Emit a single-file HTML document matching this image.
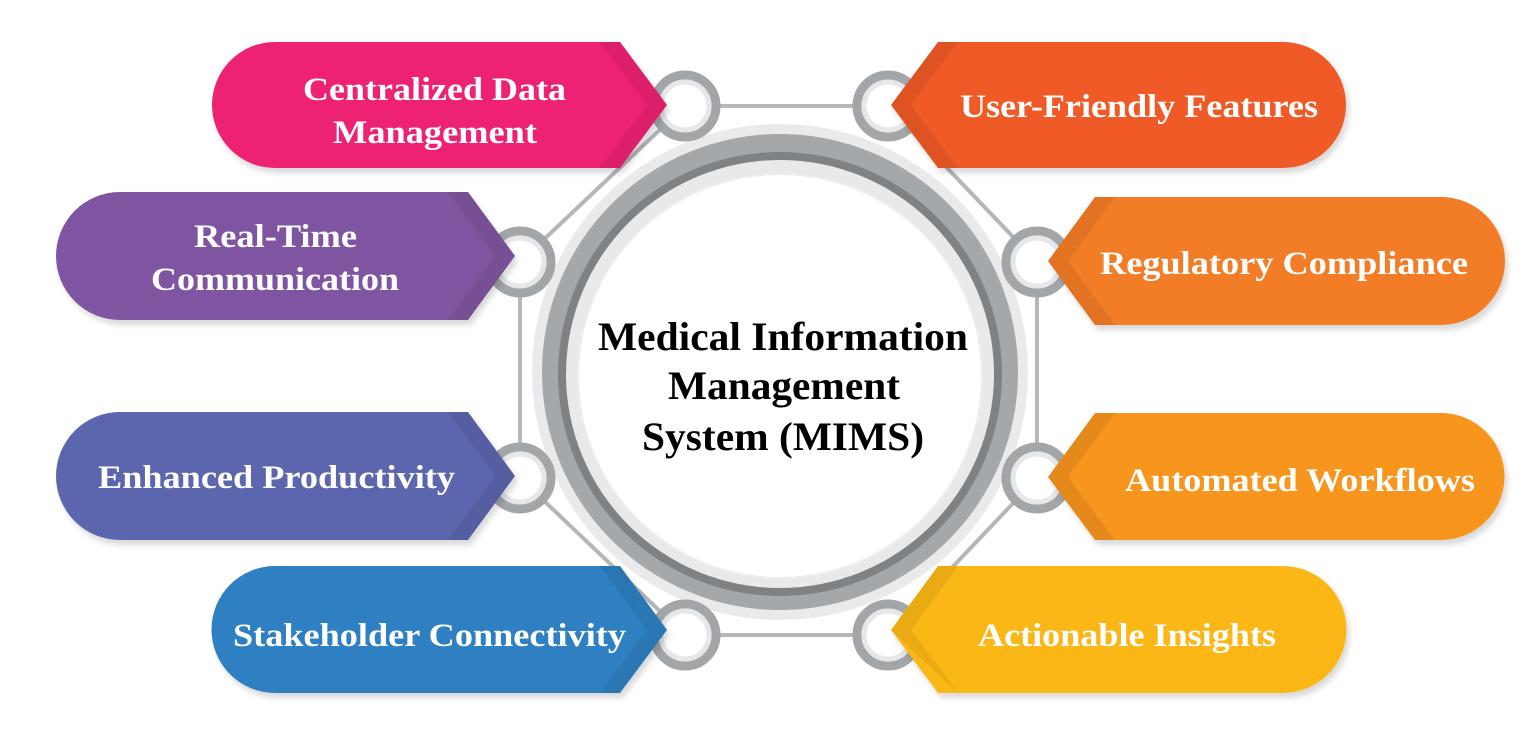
<!DOCTYPE html>
<html><head><meta charset="utf-8"><style>
html,body{margin:0;padding:0;background:#fff;}
svg{display:block;}
text{font-family:"Liberation Serif",serif;font-weight:bold;}
</style></head><body>
<svg width="1536" height="747" viewBox="0 0 1536 747">
<defs>
<filter id="sh" x="-10%" y="-10%" width="120%" height="130%"><feDropShadow dx="3" dy="5" stdDeviation="3" flood-color="#000" flood-opacity="0.15"/></filter>
</defs>
<g stroke="#b4b7ba" stroke-width="4" fill="none">
<line x1="685" y1="106" x2="888" y2="106"/>
<line x1="888" y1="106" x2="1037" y2="262"/>
<line x1="1037" y1="262" x2="1037" y2="478"/>
<line x1="1037" y1="478" x2="888" y2="635"/>
<line x1="888" y1="635" x2="685" y2="635"/>
<line x1="685" y1="635" x2="520" y2="478"/>
<line x1="520" y1="478" x2="520" y2="262"/>
<line x1="520" y1="262" x2="685" y2="106"/>
</g>
<circle cx="780" cy="372" r="248" fill="#e9eaeb"/>
<circle cx="780" cy="372" r="238" fill="#a5a8ab"/>
<circle cx="780" cy="374" r="222" fill="#7f8285"/>
<circle cx="780" cy="374" r="214" fill="#e8e9ea"/>
<circle cx="780" cy="376" r="202" fill="#fff" stroke="#ededee" stroke-width="2"/>
<g fill="#fff" stroke="#a3a6a9" stroke-width="9">
<circle cx="685" cy="106" r="31"/><circle cx="888" cy="106" r="31"/>
<circle cx="1037" cy="262" r="31"/><circle cx="1037" cy="478" r="31"/>
<circle cx="888" cy="635" r="31"/><circle cx="685" cy="635" r="31"/>
<circle cx="520" cy="478" r="31"/><circle cx="520" cy="262" r="31"/>
</g>
<g fill="none" stroke="#e6e7e8" stroke-width="5">
<circle cx="685" cy="106" r="24"/><circle cx="888" cy="106" r="24"/>
<circle cx="1037" cy="262" r="24"/><circle cx="1037" cy="478" r="24"/>
<circle cx="888" cy="635" r="24"/><circle cx="685" cy="635" r="24"/>
<circle cx="520" cy="478" r="24"/><circle cx="520" cy="262" r="24"/>
</g>
<g filter="url(#sh)">
<path d="M275,42 H620 L667,105 L620,168 H275 A63,63 0 0 1 275,42 Z" fill="#ee2073"/>
<path d="M120,192 H468 L515,256 L468,320 H120 A64,64 0 0 1 120,192 Z" fill="#7f55a1"/>
<path d="M120,412 H468 L515,476 L468,540 H120 A64,64 0 0 1 120,412 Z" fill="#5c66ae"/>
<path d="M275,566 H620 L667,630 L620,693 H275 A63.5,63.5 0 0 1 275,566 Z" fill="#2f80c2"/>
<path d="M1283,42 H938 L891,105 L938,168 H1283 A63,63 0 0 0 1283,42 Z" fill="#f05a28"/>
<path d="M1441,197 H1095 L1048,261 L1095,325 H1441 A64,64 0 0 0 1441,197 Z" fill="#f37b25"/>
<path d="M1441,413 H1095 L1048,477 L1095,540 H1441 A63.5,63.5 0 0 0 1441,413 Z" fill="#f7951e"/>
<path d="M1283,566 H938 L891,630 L938,693 H1283 A63.5,63.5 0 0 0 1283,566 Z" fill="#fbb716"/>
</g>
<g fill="#000" opacity="0.07">
<path d="M600,42 H620 L667,105 L620,168 H600 L647,105 Z"/>
<path d="M448,192 H468 L515,256 L468,320 H448 L495,256 Z"/>
<path d="M448,412 H468 L515,476 L468,540 H448 L495,476 Z"/>
<path d="M600,566 H620 L667,630 L620,693 H600 L647,630 Z"/>
<path d="M958,42 H938 L891,105 L938,168 H958 L911,105 Z"/>
<path d="M1115,197 H1095 L1048,261 L1095,325 H1115 L1068,261 Z"/>
<path d="M1115,413 H1095 L1048,477 L1095,540 H1115 L1068,477 Z"/>
<path d="M958,566 H938 L891,630 L958,693 H958 L911,630 Z"/>
</g>
<g fill="#fff" font-size="33" lengthAdjust="spacingAndGlyphs">
<text x="303" y="100" textLength="263" lengthAdjust="spacingAndGlyphs">Centralized Data</text>
<text x="333" y="143" textLength="204" lengthAdjust="spacingAndGlyphs">Management</text>
<text x="194" y="247" textLength="163" lengthAdjust="spacingAndGlyphs">Real-Time</text>
<text x="151" y="290" textLength="248" lengthAdjust="spacingAndGlyphs">Communication</text>
<text x="98" y="488" textLength="357" lengthAdjust="spacingAndGlyphs">Enhanced Productivity</text>
<text x="233" y="646" textLength="393" lengthAdjust="spacingAndGlyphs">Stakeholder Connectivity</text>
<text x="960" y="117" textLength="358" lengthAdjust="spacingAndGlyphs">User-Friendly Features</text>
<text x="1100" y="274" textLength="368" lengthAdjust="spacingAndGlyphs">Regulatory Compliance</text>
<text x="1125" y="491" textLength="350" lengthAdjust="spacingAndGlyphs">Automated Workflows</text>
<text x="978" y="646" textLength="298" lengthAdjust="spacingAndGlyphs">Actionable Insights</text>
</g>
<g fill="#000" font-size="40">
<text x="598" y="350" textLength="370" lengthAdjust="spacingAndGlyphs">Medical Information</text>
<text x="668" y="399" textLength="232" lengthAdjust="spacingAndGlyphs">Management</text>
<text x="642" y="450" textLength="282" lengthAdjust="spacingAndGlyphs">System (MIMS)</text>
</g>
</svg>
</body></html>
